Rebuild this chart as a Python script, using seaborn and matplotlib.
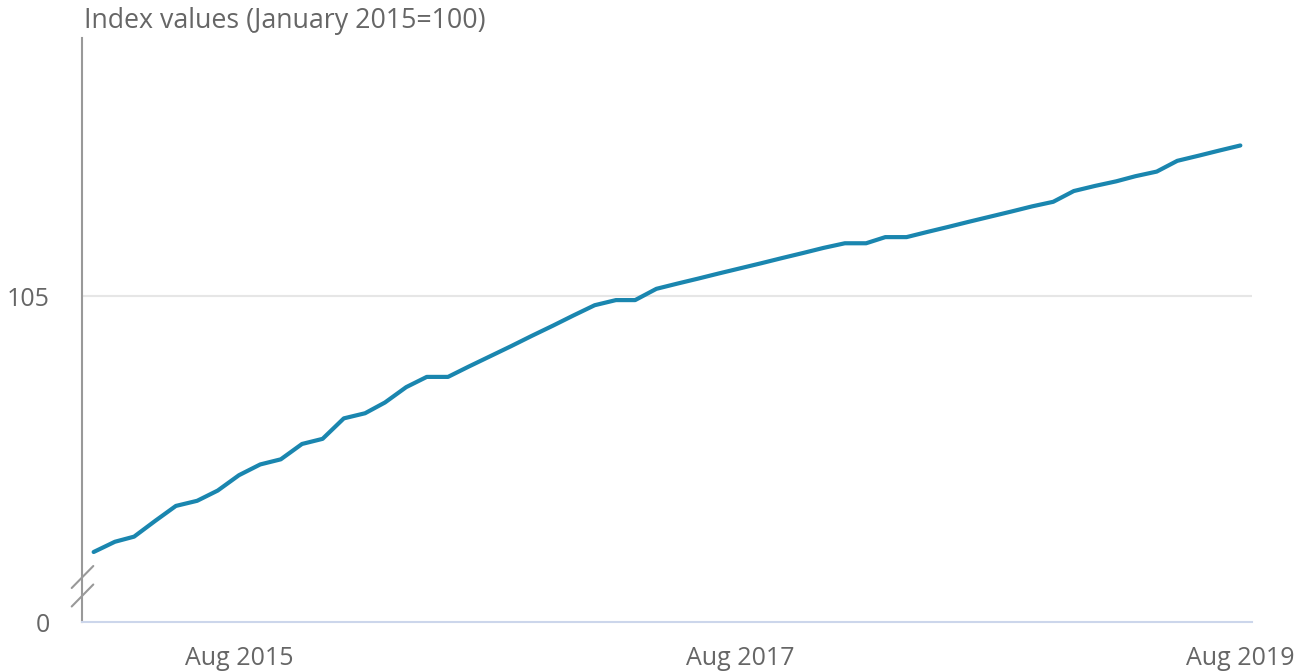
import matplotlib
matplotlib.use("Agg")
import matplotlib.pyplot as plt
import seaborn as sns
import pandas as pd

# ---- data ----
months = pd.date_range("2015-01-01", "2019-08-01", freq="MS")
index_values = [
    100.00, 100.20, 100.30, 100.61, 100.90, 101.00, 101.20, 101.50,
    101.71, 101.81, 102.11, 102.21, 102.61, 102.71, 102.92, 103.22,
    103.42, 103.42, 103.62, 103.82, 104.02, 104.22, 104.42, 104.62,
    104.82, 104.92, 104.92, 105.14, 105.24, 105.34, 105.44, 105.54,
    105.64, 105.74, 105.84, 105.94, 106.03, 106.03, 106.15, 106.15,
    106.25, 106.35, 106.45, 106.55, 106.65, 106.75, 106.84, 107.05,
    107.15, 107.24, 107.34, 107.43, 107.64, 107.74, 107.84, 107.94,
]
x_tick_dates = ["2015-08-01", "2017-08-01", "2019-08-01"]
x_tick_labels = ["Aug 2015", "Aug 2017", "Aug 2019"]
y_tick_labels = ["0", "105"]
title = "Index values (January 2015=100)"

df = pd.DataFrame({"month": months, "value": index_values})

# ---- style ----
sns.set_theme(style="white")
plt.rcParams["font.family"] = ["Open Sans", "DejaVu Sans"]

W, H = 1306, 672
fig = plt.figure(figsize=(W / 100, H / 100), dpi=100)
left, right, top, bottom = 82, 1252, 38, 622
ax = fig.add_axes([left / W, 1 - bottom / H, (right - left) / W, (bottom - top) / H])

line_color = "#1a86af"
text_color = "#666666"
sns.lineplot(data=df, x="month", y="value", ax=ax, color=line_color,
             linewidth=3.0, solid_capstyle="round", solid_joinstyle="round")

# broken axis: bottom of plot area represents 0
px_per_unit = 51.2
y_bottom = 105 - (622 - 296) / px_per_unit
y_top = 105 + (296 - 38) / px_per_unit
ax.set_ylim(y_bottom, y_top)
ax.set_yticks([y_bottom, 105])
ax.set_yticklabels(y_tick_labels)

ax.set_xlim(pd.Timestamp("2014-12-15"), pd.Timestamp("2019-08-18"))
ax.set_xticks(pd.to_datetime(x_tick_dates))
ax.set_xticklabels(x_tick_labels)

ax.set_xlabel("")
ax.set_ylabel("")
ax.grid(False)
ax.axhline(105, color="#e6e6e6", linewidth=1.5, zorder=0)

for s in ["top", "right"]:
    ax.spines[s].set_visible(False)
ax.spines["left"].set_color("#999999")
ax.spines["left"].set_linewidth(1.5)
ax.spines["bottom"].set_color("#ccd6eb")
ax.spines["bottom"].set_linewidth(1.5)

ax.tick_params(axis="x", which="major", length=14.4, width=1.5, color="#ccd6eb",
               labelsize=18, labelcolor=text_color, pad=3, direction="out")
ax.tick_params(axis="y", which="major", length=0, labelsize=18,
               labelcolor=text_color, pad=23)

# axis break marks
for y0 in [588, 606.5]:
    ax.plot([(71.7 - left) / (right - left), (93.3 - left) / (right - left)],
            [(bottom - y0) / (bottom - top), (bottom - (y0 - 22)) / (bottom - top)],
            transform=ax.transAxes, color="#999999", linewidth=1.5,
            clip_on=False)

fig.text(84 / W, 1 - 21 / H, title, fontsize=19.3, color=text_color,
         ha="left", va="center")

fig.savefig("out.png", dpi=100, facecolor="white")
